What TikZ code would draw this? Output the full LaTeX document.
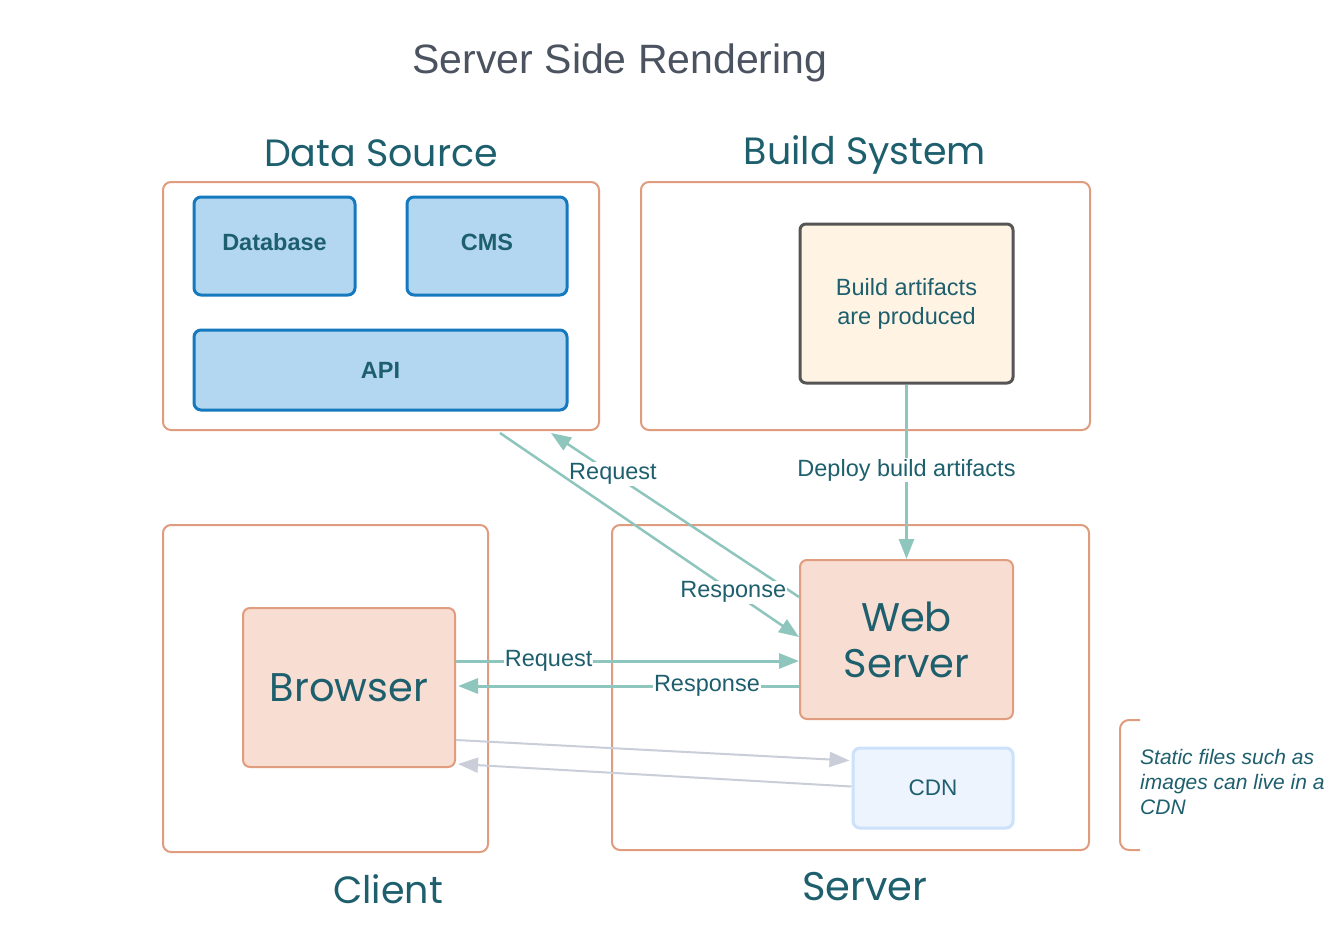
\documentclass[tikz,border=0pt]{standalone}
\usepackage{fontspec}
\setmainfont{Liberation Sans}
\newfontfamily\roundfont{Poppins}
\usetikzlibrary{arrows.meta,calc}
\definecolor{boxorange}{HTML}{E09C7E}
\definecolor{dsfill}{HTML}{B3D7F0}
\definecolor{dsblue}{HTML}{1479BE}
\definecolor{txt}{HTML}{1E5F6E}
\definecolor{titlegray}{HTML}{4B5360}
\definecolor{artfill}{HTML}{FFF3E4}
\definecolor{artdraw}{HTML}{555555}
\definecolor{brfill}{HTML}{F8DDD2}
\definecolor{cdnfill}{HTML}{EDF4FD}
\definecolor{cdndraw}{HTML}{CCE1FA}
\definecolor{arrteal}{HTML}{8EC6BD}
\definecolor{arrgray}{HTML}{C9CED8}
\tikzset{
  group/.style={draw=boxorange, line width=2pt, rounded corners=8pt},
  grouptitle/.style={text=txt, font=\roundfont\fontsize{38}{44}\selectfont},
  dsbox/.style={draw=dsblue, fill=dsfill, line width=3pt, rounded corners=7pt, text=txt,
    font=\bfseries\fontsize{23.5}{27}\selectfont},
  artbox/.style={draw=artdraw, fill=artfill, line width=3pt, rounded corners=6pt, text=txt,
    align=center, font=\fontsize{23.5}{29}\selectfont},
  peachbox/.style={draw=boxorange, fill=brfill, line width=2pt, rounded corners=7pt, text=txt,
    align=center, font=\roundfont\fontsize{40}{46}\selectfont},
  cdnbox/.style={draw=cdndraw, fill=cdnfill, line width=3pt, rounded corners=7pt, text=txt,
    font=\fontsize{22.5}{26}\selectfont},
  tealarrow/.style={draw=arrteal, line width=2.5pt, -{Triangle[length=20pt,width=15pt]}},
  grayarrow/.style={draw=arrgray, line width=2pt, -{Triangle[length=20pt,width=15pt]}},
  lbl/.style={fill=white, text=txt, inner sep=1pt, font=\fontsize{23.5}{27}\selectfont},
}
\begin{document}
\begin{tikzpicture}[x=1pt,y=-1pt]
\useasboundingbox[fill=white] (0,0) rectangle (1339,927);
% title
\node[text=titlegray, font=\fontsize{41}{48}\selectfont] (title) at (620,63) {Server Side Rendering};
% groups
\node[group, minimum width=436pt, minimum height=248pt] (ds) at (381,306) {};
\node[group, minimum width=449pt, minimum height=248pt] (bs) at (865.5,306) {};
\node[group, minimum width=325pt, minimum height=327pt] (cl) at (325.5,688.5) {};
\node[group, minimum width=477pt, minimum height=325pt] (sv) at (850.5,687.5) {};
\node[grouptitle] (dst) at (381,153) {Data Source};
\node[grouptitle] (bst) at (865,155) {Build System};
\node[grouptitle] (clt) at (388,889) {Client};
\node[grouptitle, font=\roundfont\fontsize{40}{44}\selectfont] (svt) at (865,887) {Server};
% data source content
\node[dsbox, minimum width=161pt, minimum height=98pt, text depth=8pt] (db) at (274.5,246) {Database};
\node[dsbox, minimum width=160pt, minimum height=98pt, text depth=8pt] (cms) at (487,246) {CMS};
\node[dsbox, minimum width=373pt, minimum height=80pt] (api) at (380.5,370) {API};
% build artifacts
\node[artbox, minimum width=213pt, minimum height=159pt] (art) at (906.5,303.5) {Build artifacts\\are produced};
% client / server nodes
\node[peachbox, minimum width=212pt, minimum height=159pt] (br) at (349,687.5) {Browser};
\node[peachbox, minimum width=213pt, minimum height=159pt] (ws) at (906.5,639.5) {Web\\Server};
\node[cdnbox, minimum width=160pt, minimum height=80pt] (cdn) at (933,788) {CDN};
% connectors
\draw[tealarrow] (art.south) -- node[lbl, pos=0.49] {Deploy build artifacts} (ws.north);
\draw[tealarrow] ([yshift=-38pt]ws.north west) -- node[lbl, pos=0.75] {Request} ([xshift=170pt,yshift=-2pt]ds.south);
\draw[tealarrow] ([xshift=119pt,yshift=-2pt]ds.south) -- node[lbl, pos=0.78] {Response} ([yshift=-78pt]ws.north west);
\draw[tealarrow, line width=3pt] ([yshift=-54pt]br.north east) -- node[lbl, pos=0.27] {Request} ([yshift=-102pt]ws.north west);
\draw[tealarrow, line width=3pt] ([yshift=-127pt]ws.north west) -- node[lbl, pos=0.27] {Response} ([yshift=-79pt,xshift=2pt]br.north east);
\draw[grayarrow] ([yshift=-133pt]br.north east) -- ([yshift=-14pt,xshift=-2pt]cdn.north west);
\draw[grayarrow] ([yshift=-40pt]cdn.north west) -- ([yshift=-157pt,xshift=2pt]br.north east);
% note
\coordinate (nt) at (1140,720);
\coordinate (nb) at (1140,850);
\draw[draw=boxorange, line width=2pt, rounded corners=9pt] (nt) -- ++(-20,0) -- ++(0,130) -- (nb);
\node[anchor=west, align=left, text=txt, inner xsep=0pt, font=\itshape\fontsize{21}{25}\selectfont] (note) at (1140,782) {Static files such as\\images can live in a\\CDN};
\end{tikzpicture}
\end{document}
